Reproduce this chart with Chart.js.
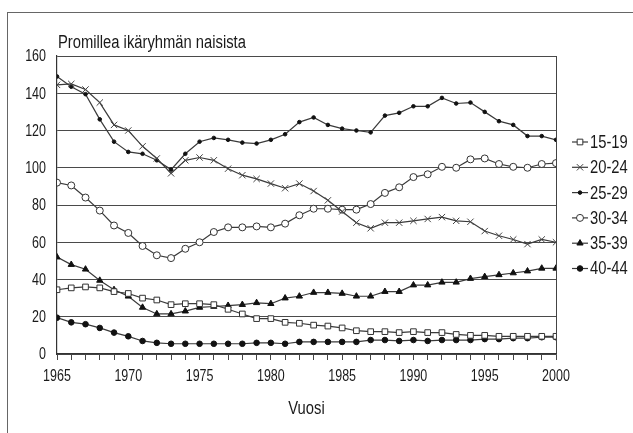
<!DOCTYPE html>
<html>
<head>
<meta charset="utf-8">
<script src="https://cdn.jsdelivr.net/npm/chart.js@4/dist/chart.umd.min.js"></script>
<style>
  html, body { margin: 0; padding: 0; background: #fff; overflow: hidden; }
  #wrap { position: relative; width: 633px; height: 433px; }
  #frame { position: absolute; left: 7px; top: 12px; width: 700px; height: 500px;
           border-left: 1.5px solid #666; border-top: 1.5px solid #666; box-sizing: border-box; pointer-events: none; }
  canvas { position: absolute; left: 0; top: 0; }
</style>
</head>
<body>
<div id="wrap">
  <canvas id="c" width="633" height="433"></canvas>
  <div id="frame"></div>
</div>
<script>
const FONT = '"Liberation Sans", Arial, sans-serif';

const chartTitle = 'Promillea ikäryhmän naisista';
const axisTitle = 'Vuosi';

const years = [1965, 1966, 1967, 1968, 1969, 1970, 1971, 1972, 1973, 1974,
               1975, 1976, 1977, 1978, 1979, 1980, 1981, 1982, 1983, 1984,
               1985, 1986, 1987, 1988, 1989, 1990, 1991, 1992, 1993, 1994,
               1995, 1996, 1997, 1998, 1999, 2000];

const seriesNames = ['15-19', '20-24', '25-29', '30-34', '35-39', '40-44'];

const age15_19 = [34.5, 35.5, 36, 35.5, 33.5, 32.5, 30, 29, 26.5, 27,
                  27, 26.5, 24, 21.5, 19, 19, 17, 16.5, 15.5, 15,
                  14, 12.5, 12, 12, 11.5, 12, 11.5, 11.5, 10.5, 10,
                  10, 9.5, 9.5, 9.5, 9.5, 9.5];
const age20_24 = [144.5, 145, 142, 135, 123, 120, 111.5, 105, 97, 104,
                  105.5, 104, 99.5, 96, 94, 91.5, 89, 91.5, 87.5, 82.5,
                  76.5, 70.5, 67.5, 70.5, 70.5, 71.5, 72.5, 73.5, 71.5, 71,
                  66, 63.5, 61.5, 59, 61.5, 60];
const age25_29 = [149, 143.5, 139.5, 126, 114, 108.5, 107.5, 104, 99, 107.5,
                  114, 116, 115, 113.5, 113, 115, 118, 124.5, 127, 123,
                  121, 120, 119, 128, 129.5, 133, 133, 137.5, 134.5, 135,
                  130, 125, 123, 117, 117, 115];
const age30_34 = [92, 90.5, 84, 77, 69, 65, 58, 53, 51.5, 56.5,
                  60, 65.5, 68, 68, 68.5, 68, 70, 74.5, 78, 78,
                  77.5, 77.5, 80.5, 86.5, 89.5, 95, 96.5, 100.5, 100, 104.5,
                  105, 102, 100.5, 100, 102, 102.5];
const age35_39 = [52, 48, 45.5, 39.5, 34.5, 31, 25, 21.5, 21.5, 23,
                  25, 25.5, 26, 26.5, 27.5, 27, 30, 31, 33, 33,
                  32.5, 31, 31, 33.5, 33.5, 37, 37, 38.5, 38.5, 40.5,
                  41.5, 42.5, 43.5, 44.5, 46, 46];
const age40_44 = [19.5, 17, 16, 14, 11.5, 9.5, 7, 6, 5.5, 5.5,
                  5.5, 5.5, 5.5, 5.5, 6, 6, 5.5, 6.5, 6.5, 6.5,
                  6.5, 6.5, 7.5, 7.5, 7, 7.5, 7, 7.5, 7.5, 7.5,
                  8, 8, 8.5, 8.5, 9, 9];

const yTicks = [0, 20, 40, 60, 80, 100, 120, 140, 160];
const xLabelYears = [1965, 1970, 1975, 1980, 1985, 1990, 1995, 2000];

const allSeries = [age15_19, age20_24, age25_29, age30_34, age35_39, age40_44];
const styles = [
  { pointStyle: 'rect',     radius: 4,   fill: '#fff',  border: '#333', bw: 1 },
  { pointStyle: 'crossRot', radius: 4.5, fill: '#fff',  border: '#444', bw: 1 },
  { pointStyle: 'circle',   radius: 1.8, fill: '#111',  border: '#111', bw: 1 },
  { pointStyle: 'circle',   radius: 3.5, fill: '#fff',  border: '#333', bw: 1 },
  { pointStyle: 'triangle', radius: 3.6, fill: '#111',  border: '#111', bw: 1 },
  { pointStyle: 'circle',   radius: 2.8, fill: '#111',  border: '#111', bw: 1 }
];

const datasets = allSeries.map((vals, i) => ({
  label: seriesNames[i],
  data: vals.map((v, j) => ({ x: years[j], y: v })),
  borderColor: '#3a3a3a',
  borderWidth: 1.2,
  tension: 0,
  fill: false,
  pointStyle: styles[i].pointStyle,
  pointRadius: styles[i].radius,
  pointBackgroundColor: styles[i].fill,
  pointBorderColor: styles[i].border,
  pointBorderWidth: styles[i].bw
}));

function narrowText(ctx, text, x, y, size, squeeze, align) {
  ctx.save();
  ctx.font = size + 'px ' + FONT;
  ctx.fillStyle = '#1a1a1a';
  ctx.textBaseline = 'middle';
  ctx.textAlign = align;
  ctx.translate(x, y);
  ctx.scale(squeeze, 1);
  ctx.fillText(text, 0, 0);
  ctx.restore();
}

const decorPlugin = {
  id: 'decor',
  afterDraw(chart) {
    const ctx = chart.ctx;
    const area = chart.chartArea;
    const xs = chart.scales.x, ys = chart.scales.y;
    narrowText(ctx, chartTitle, area.left + 1, 43, 18, 0.82, 'left');
    yTicks.forEach(v => narrowText(ctx, String(v), area.left - 11, ys.getPixelForValue(v) + 1, 16, 0.78, 'right'));
    xLabelYears.forEach(v => narrowText(ctx, String(v), xs.getPixelForValue(v), area.bottom + 23, 16, 0.78, 'center'));
    narrowText(ctx, axisTitle, (area.left + area.right) / 2, 409, 18, 0.82, 'center');
    const lx0 = 572, lx1 = 588, mx = 580, ty0 = 142, step = 25.3;
    ctx.save();
    chart.data.datasets.forEach((ds, i) => {
      const y = ty0 + i * step;
      ctx.strokeStyle = ds.borderColor;
      ctx.lineWidth = 1.2;
      ctx.beginPath();
      ctx.moveTo(lx0, y);
      ctx.lineTo(lx1, y);
      ctx.stroke();
      ctx.fillStyle = ds.pointBackgroundColor;
      ctx.strokeStyle = ds.pointBorderColor;
      ctx.lineWidth = ds.pointBorderWidth;
      if (Chart.helpers && Chart.helpers.drawPoint) {
        Chart.helpers.drawPoint(ctx, { pointStyle: ds.pointStyle, radius: ds.pointRadius, borderWidth: ds.pointBorderWidth, rotation: 0 }, mx, y);
      }
      narrowText(ctx, ds.label, 590, y + 1, 18, 0.82, 'left');
    });
    ctx.restore();
  }
};

new Chart(document.getElementById('c'), {
  type: 'line',
  data: { datasets },
  plugins: [decorPlugin],
  options: {
    responsive: false,
    animation: false,
    devicePixelRatio: 1,
    layout: { padding: { left: 0, top: 56, right: 77, bottom: 0 } },
    plugins: { legend: { display: false }, title: { display: false }, tooltip: { enabled: false } },
    scales: {
      x: {
        type: 'linear',
        min: years[0],
        max: years[years.length - 1],
        afterFit(s) { s.height = 79; },
        afterBuildTicks(s) { s.ticks = years.map(v => ({ value: v })); },
        ticks: { display: false, autoSkip: false },
        grid: {
          drawOnChartArea: true,
          drawTicks: true,
          tickLength: 6,
          lineWidth: 1,
          color: (c) => (c.tick && c.tick.value === years[years.length - 1]) ? '#444' : 'rgba(0,0,0,0)',
          tickColor: '#444'
        },
        border: { display: true, color: '#333', width: 1.2 },
        title: { display: false }
      },
      y: {
        type: 'linear',
        min: 0,
        max: 160,
        afterFit(s) { s.width = 57; },
        afterBuildTicks(s) { s.ticks = yTicks.map(v => ({ value: v })); },
        ticks: { display: false },
        grid: { drawTicks: false, color: '#4a4a4a', lineWidth: 1 },
        border: { display: true, color: '#333', width: 1.2 }
      }
    }
  }
});
</script>
</body>
</html>
